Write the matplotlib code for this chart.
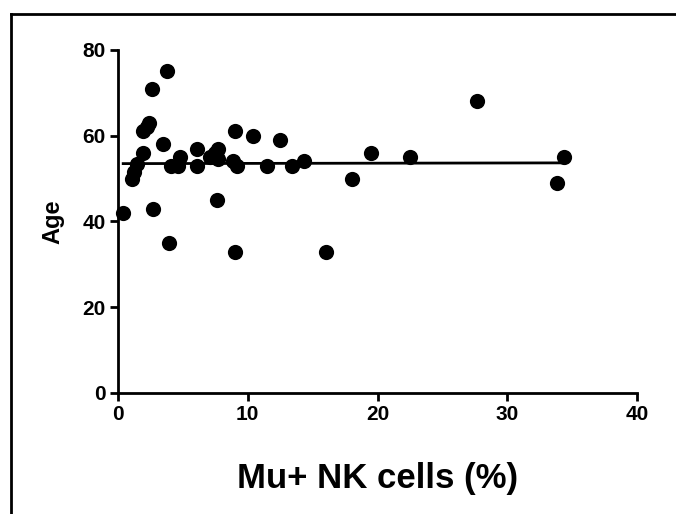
import matplotlib
matplotlib.use("Agg")
import matplotlib.pyplot as plt
from matplotlib.lines import Line2D
import numpy as np

plt.rcParams['font.family'] = ['Liberation Sans', 'DejaVu Sans']

# Data
mu_nk = [0.4, 1.05, 1.2, 1.45, 1.95, 1.95, 2.2, 2.4, 2.65, 2.7, 3.45, 3.75, 3.9,
         4.1, 4.65, 4.8, 6.1, 6.1, 7.1, 7.5, 7.7, 7.7, 7.6, 9.0, 8.9, 9.15, 9.0,
         10.4, 11.5, 12.5, 13.4, 14.3, 16.0, 18.0, 19.5, 22.5, 27.7, 33.8, 34.4]
age = [42, 50, 51.5, 53.5, 56, 61, 62, 63, 71, 43, 58, 75, 35,
       53, 53, 55, 57, 53, 55, 56, 57, 54.5, 45, 61, 54, 53, 33,
       60, 53, 59, 53, 54, 33, 50, 56, 55, 68, 49, 55]
# fitted line
fit_intercept = 53.5
fit_slope = 0.005
x_ticks = [0, 10, 20, 30, 40]
y_ticks = [0, 20, 40, 60, 80]

fig = plt.figure(figsize=(6.76, 5.14), dpi=100)
ax = fig.add_axes([118/676, 1-393/514, (637-118)/676, (393-50)/514])

ax.scatter(mu_nk, age, s=120, color='black', zorder=3, clip_on=False, linewidths=0)

xs = np.array([min(mu_nk), max(mu_nk)])
ax.plot(xs, fit_slope*xs + fit_intercept, color='black', lw=2, zorder=2)

ax.set_xlim(0, 40)
ax.set_ylim(0, 80)
ax.set_xticks(x_ticks)
ax.set_yticks(y_ticks)
for s in ['top', 'right']:
    ax.spines[s].set_visible(False)
for s in ['left', 'bottom']:
    ax.spines[s].set_linewidth(2)
ax.tick_params(axis='both', direction='out', length=6, width=2, labelsize=15, pad=3)
for lab in ax.get_xticklabels() + ax.get_yticklabels():
    lab.set_fontweight('bold')

ax.set_ylabel('Age', fontsize=17, fontweight='bold', labelpad=13)
ax.set_xlabel('Mu+ NK cells (%)', fontsize=25, fontweight='bold', labelpad=27)

# outer frame
fig.add_artist(Line2D([11/676, 1], [1-14/514, 1-14/514], color='black', lw=2, transform=fig.transFigure))
fig.add_artist(Line2D([11/676, 11/676], [0, 1-14/514], color='black', lw=2, transform=fig.transFigure))

fig.savefig('out.png', dpi=100)
